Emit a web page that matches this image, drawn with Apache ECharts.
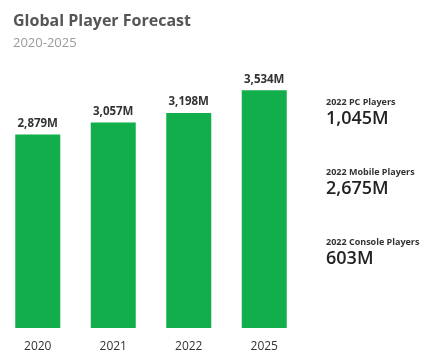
<!DOCTYPE html>
<html><head><meta charset="utf-8">
<script src="https://cdn.jsdelivr.net/npm/echarts@6/dist/echarts.min.js"></script>
<style>html,body{margin:0;padding:0;background:#fff}#c{width:424px;height:353px}</style>
</head><body><div id="c"></div>
<script>
const categories = ['2020', '2021', '2022', '2025'];
const players = [2879, 3057, 3198, 3534];
const sideLabels = ['2022 PC Players', '2022 Mobile Players', '2022 Console Players'];
const sideValues = [1045, 2675, 603];

const fmt = v => v.toLocaleString('en-US') + 'M';
const font = '"Open Sans", sans-serif';
const chart = echarts.init(document.getElementById('c'));
const sideTexts = [];
const sideY = [105, 175, 245];
sideLabels.forEach((l, i) => {
  sideTexts.push({type: 'text', left: 326, top: sideY[i] - 7, style: {text: l, font: 'bold 9px ' + font, fill: '#333'}});
  sideTexts.push({type: 'text', left: 326, top: sideY[i] + 5, style: {text: fmt(sideValues[i]), font: '600 18px ' + font, fill: '#222'}});
});
chart.setOption({
  animation: false,
  title: {
    text: 'Global Player Forecast', subtext: '2020-2025', left: 8, top: 8,
    textStyle: {fontFamily: font, fontWeight: 'bold', fontSize: 16, color: '#555'},
    subtextStyle: {fontFamily: font, fontSize: 13, color: '#9a9a9a'}, itemGap: 8
  },
  graphic: sideTexts,
  grid: {left: -3, width: 305, top: 59, bottom: 25},
  xAxis: {
    type: 'category', data: categories,
    axisLine: {show: false}, axisTick: {show: false},
    axisLabel: {fontFamily: font, fontSize: 12, color: '#333', margin: 13}
  },
  yAxis: {type: 'value', min: 0, max: 4000, show: false, splitLine: {show: false}},
  series: [{
    type: 'bar', data: players, barWidth: 45,
    itemStyle: {color: '#12ae4b'},
    label: {show: true, position: 'top', distance: 5, formatter: p => fmt(p.value),
      fontFamily: font, fontWeight: 'bold', fontSize: 11.5, color: '#333'}
  }]
});
</script></body></html>
